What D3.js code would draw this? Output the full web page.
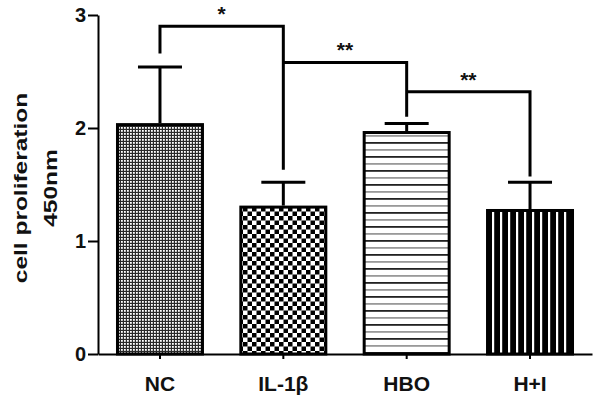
<!DOCTYPE html>
<html>
<head>
<meta charset="utf-8">
<script src="https://cdn.jsdelivr.net/npm/d3@7"></script>
<style>
  body { margin: 0; background: #fff; }
  text { font-family: "Liberation Sans", Arial, sans-serif; font-weight: bold; fill: #111; }
</style>
</head>
<body>
<div id="chart"></div>
<script>
// data
const groups = ["NC", "IL-1\u03b2", "HBO", "H+I"];
const means = [2.03, 1.30, 1.96, 1.27];
const errs = [0.51, 0.22, 0.08, 0.25];
const yTicks = [0, 1, 2, 3];

// significance brackets: from group, to group, bracket height, leg ends
const sigFrom = [0, 1, 2];
const sigTo = [1, 2, 3];
const sigY = [2.90, 2.58, 2.32];
const sigLegFrom = [2.66, null, null];
const sigLegTo = [1.63, 2.10, 1.57];
const sigLabel = ["*", "**", "**"];

const svgWidth = 600;
const svgHeight = 404;

const svg = d3.select("#chart")
    .append("svg")
    .attr("width", svgWidth)
    .attr("height", svgHeight);

const defs = svg.append("defs");

// NC: fine dotted mesh
const pNC = defs.append("pattern").attr("id", "pNC")
    .attr("patternUnits", "userSpaceOnUse").attr("width", 3).attr("height", 3);
pNC.append("rect").attr("width", 3).attr("height", 3).attr("fill", "#2a2a2a");
pNC.append("rect").attr("x", 1).attr("y", 1).attr("width", 1.8).attr("height", 1.8).attr("fill", "#fff");

// IL-1b: checkerboard
const pIL = defs.append("pattern").attr("id", "pIL")
    .attr("patternUnits", "userSpaceOnUse").attr("width", 9).attr("height", 9);
pIL.append("rect").attr("width", 9).attr("height", 9).attr("fill", "#fff");
pIL.append("rect").attr("width", 4.5).attr("height", 4.5).attr("fill", "#000");
pIL.append("rect").attr("x", 4.5).attr("y", 4.5).attr("width", 4.5).attr("height", 4.5).attr("fill", "#000");

// HBO: horizontal lines
const pHBO = defs.append("pattern").attr("id", "pHBO")
    .attr("patternUnits", "userSpaceOnUse").attr("width", 10).attr("height", 14);
pHBO.append("rect").attr("width", 10).attr("height", 14).attr("fill", "#fff");
pHBO.append("rect").attr("y", 2).attr("width", 10).attr("height", 1.8).attr("fill", "#222");
pHBO.append("rect").attr("y", 9).attr("width", 10).attr("height", 1.8).attr("fill", "#999");

// H+I: vertical stripes
const pHI = defs.append("pattern").attr("id", "pHI")
    .attr("patternUnits", "userSpaceOnUse").attr("width", 8).attr("height", 10);
pHI.append("rect").attr("width", 8).attr("height", 10).attr("fill", "#000");
pHI.append("rect").attr("x", 4).attr("width", 2.2).attr("height", 10).attr("fill", "#fff");

const fills = ["url(#pNC)", "url(#pIL)", "url(#pHBO)", "url(#pHI)"];

const x = d3.scaleBand()
    .domain(groups)
    .range([98, 592])
    .paddingInner(0.311)
    .paddingOuter(0.158);

const y = d3.scaleLinear()
    .domain([0, 3])
    .range([354, 15]);

const cx = i => x(groups[i]) + x.bandwidth() / 2;

// bars
svg.append("g").selectAll("rect")
    .data(means)
    .enter()
    .append("rect")
    .attr("x", (d, i) => x(groups[i]))
    .attr("y", d => y(d))
    .attr("width", x.bandwidth())
    .attr("height", d => y(0) - y(d))
    .attr("fill", (d, i) => fills[i])
    .attr("stroke", "#000")
    .attr("stroke-width", 3);

// error bars (upper only)
const eb = svg.append("g").attr("stroke", "#000").attr("stroke-width", 3);
means.forEach(function(m, i) {
    eb.append("line")
        .attr("x1", cx(i)).attr("x2", cx(i))
        .attr("y1", y(m) - 1.5).attr("y2", y(m + errs[i]));
    eb.append("line")
        .attr("x1", cx(i) - 22).attr("x2", cx(i) + 22)
        .attr("y1", y(m + errs[i])).attr("y2", y(m + errs[i]));
});

// axes
const yAxis = svg.append("g")
    .attr("transform", "translate(98,0)")
    .call(d3.axisLeft(y).tickValues(yTicks).tickFormat(d3.format("d")).tickSizeInner(10).tickSizeOuter(0));
yAxis.select(".domain").attr("stroke-width", 2);
yAxis.selectAll(".tick line").attr("stroke-width", 2);
yAxis.selectAll(".tick text")
    .attr("x", -12)
    .attr("font-size", 20)
    .attr("fill", "#111")
    .style("font-family", "'Liberation Sans', Arial, sans-serif")
    .style("font-weight", "bold");

const xAxis = svg.append("g")
    .attr("transform", "translate(0,354)")
    .call(d3.axisBottom(x).tickSizeInner(5).tickSizeOuter(0));
xAxis.select(".domain").attr("stroke-width", 2);
xAxis.selectAll(".tick line").attr("stroke-width", 2);
xAxis.selectAll(".tick text")
    .attr("y", 22)
    .attr("dy", "0.71em")
    .attr("font-size", 21)
    .attr("fill", "#111")
    .style("font-family", "'Liberation Sans', Arial, sans-serif")
    .style("font-weight", "bold");

// y label
svg.append("text")
    .attr("transform", "translate(27,188) rotate(-90) scale(1.36,1.05)")
    .attr("text-anchor", "middle")
    .attr("font-size", 18)
    .text("cell proliferation");
svg.append("text")
    .attr("transform", "translate(57,188) rotate(-90) scale(1.36,1.05)")
    .attr("text-anchor", "middle")
    .attr("font-size", 18)
    .text("450nm");

// significance brackets
const br = svg.append("g");
sigFrom.forEach(function(f, k) {
    const x1 = cx(f), x2 = cx(sigTo[k]);
    const pts = [];
    if (sigLegFrom[k] !== null) pts.push([x1, y(sigLegFrom[k])]);
    pts.push([x1, y(sigY[k])]);
    pts.push([x2, y(sigY[k])]);
    pts.push([x2, y(sigLegTo[k])]);
    br.append("path")
        .attr("d", d3.line()(pts))
        .attr("fill", "none")
        .attr("stroke", "#000")
        .attr("stroke-width", 3);
    br.append("text")
        .attr("x", (x1 + x2) / 2)
        .attr("y", y(sigY[k]) - 5)
        .attr("text-anchor", "middle")
        .attr("font-size", 21)
        .text(sigLabel[k]);
});
</script>
</body>
</html>
